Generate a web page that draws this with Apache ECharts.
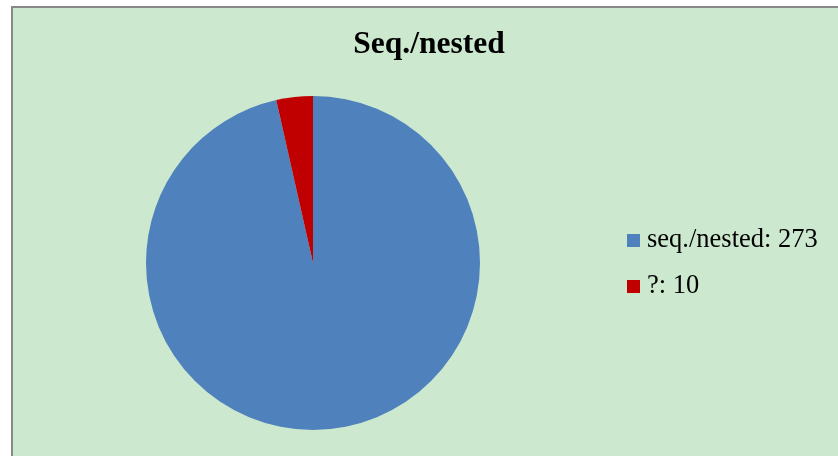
<!DOCTYPE html>
<html>
<head>
<meta charset="utf-8">
<script src="https://cdn.jsdelivr.net/npm/echarts@6/dist/echarts.min.js"></script>
<style>
  html, body { margin: 0; padding: 0; background: #fff; overflow: hidden; }
  #frame { position: absolute; left: 11px; top: 6px; width: 900px; height: 500px;
           background: #CCE8CF; border-left: 2px solid #888; border-top: 2px solid #888; }
  #chart { position: absolute; left: 0; top: 0; width: 838px; height: 456px; }
</style>
</head>
<body>
<div id="frame"></div>
<div id="chart"></div>
<script>
const titleText = 'Seq./nested'
const categories = ['seq./nested', '?']
const counts = [273, 10]
const colors = ['#4F81BD', '#C00000']

let myChart = echarts.init(document.getElementById('chart'))
let pieData = categories.map((name, i) => ({
    name: name,
    value: counts[i],
    itemStyle: { color: colors[i] }
}))

let option = {
    backgroundColor: 'transparent',
    animation: false,
    title: {
        text: titleText,
        left: 424,
        textAlign: 'center',
        top: 24,
        textStyle: {
            fontFamily: 'Liberation Serif',
            fontWeight: 'bold',
            fontSize: 31.5,
            color: '#000'
        }
    },
    legend: {
        orient: 'vertical',
        left: 622,
        top: 222,
        itemWidth: 13,
        itemHeight: 13,
        itemGap: 19,
        icon: 'rect',
        formatter: name => name + ': ' + counts[categories.indexOf(name)],
        textStyle: {
            fontFamily: 'Liberation Serif',
            fontSize: 26.5,
            color: '#000',
            padding: [0, 0, 0, 2]
        },
        selectedMode: false
    },
    series: [{
        type: 'pie',
        center: [313, 263],
        radius: 167,
        startAngle: 90,
        clockwise: true,
        label: { show: false },
        labelLine: { show: false },
        emphasis: { disabled: true },
        itemStyle: { borderWidth: 0 },
        data: pieData
    }]
}
myChart.setOption(option)
</script>
</body>
</html>
